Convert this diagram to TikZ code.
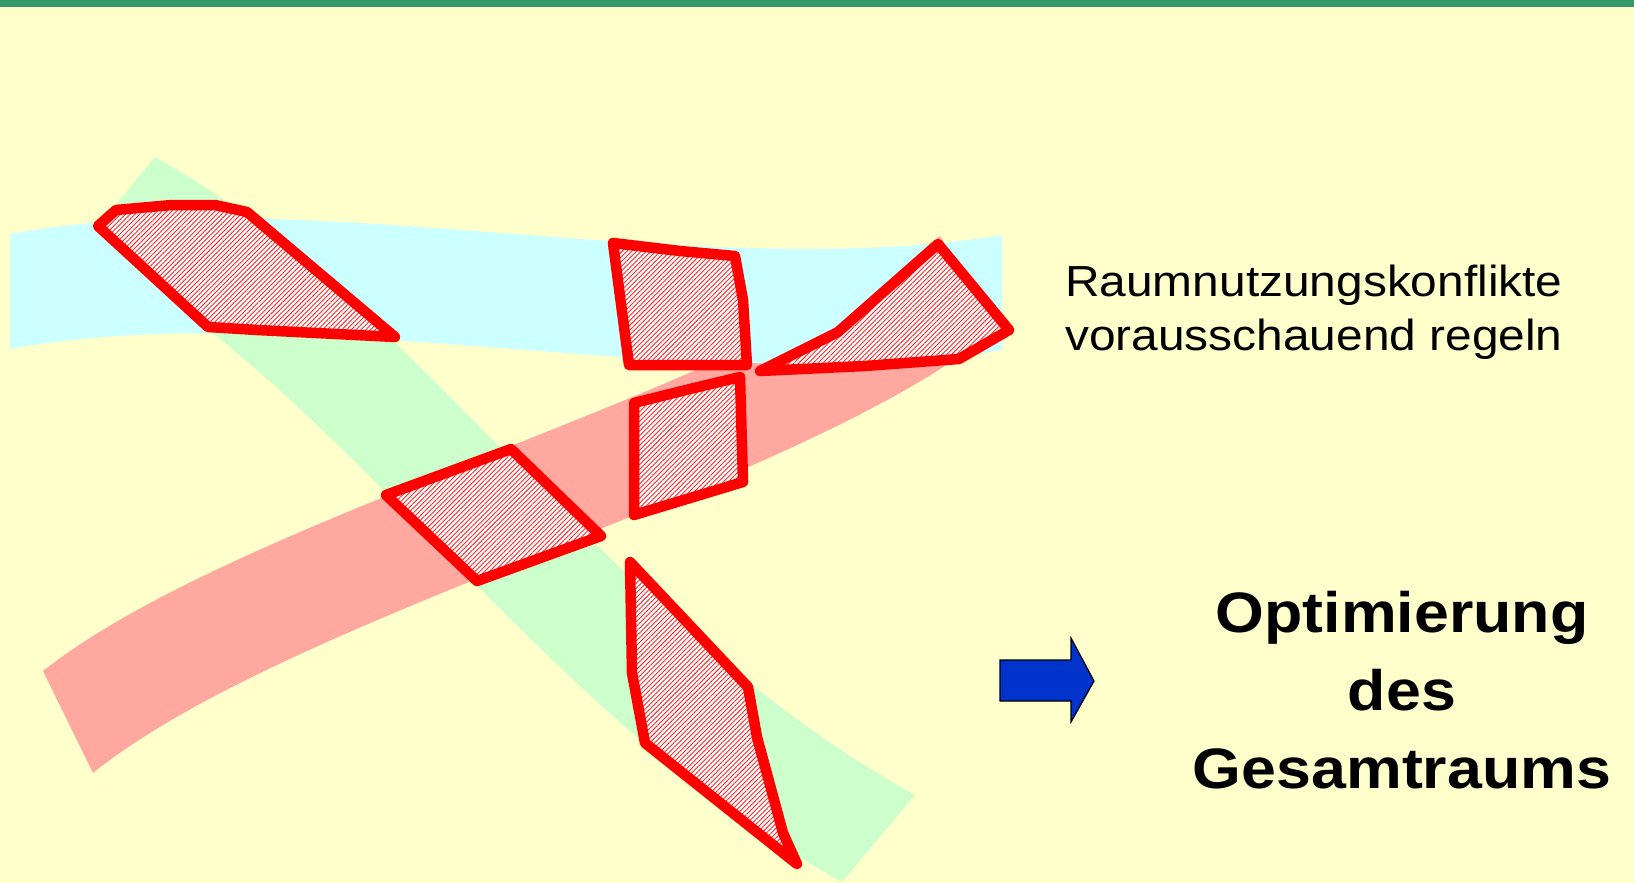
\documentclass[tikz,border=0pt]{standalone}
\usepackage{fontspec}
\usepackage{graphicx}
\setmainfont{Liberation Sans}
\usetikzlibrary{patterns.meta}

\definecolor{paper}{RGB}{255,255,204}
\definecolor{topbar}{RGB}{51,153,102}
\definecolor{waterband}{RGB}{204,255,255}
\definecolor{greenband}{RGB}{204,255,204}
\definecolor{redband}{RGB}{255,168,160}
\definecolor{arrowblue}{RGB}{0,51,204}

\tikzset{
  zone/.style={draw=red, line width=10.5pt, line join=round,
    preaction={fill=white},
    pattern={Lines[angle=45,distance=3.4pt,line width=0.9pt]},
    pattern color=red!85},
  plainlabel/.style={inner sep=0pt, font=\fontsize{43.5}{52}\selectfont},
  boldlabel/.style={inner sep=0pt, font=\fontsize{57}{68}\selectfont\bfseries},
}

\begin{document}
\begin{tikzpicture}[x=1pt,y=-1pt]
\useasboundingbox (0,0) rectangle (1634,883);
\fill[paper] (0,0) rectangle (1634,883);
\fill[topbar] (0,0) rectangle (1634,7);

% corridors
\fill[greenband] (155,157) .. controls (430,310) and (600,620) .. (915,795)
  -- (842,882) .. controls (528,708) and (358,398) .. (83,245) -- cycle;
\fill[redband] (43,671) .. controls (240,515) and (750,390) .. (940,236)
  -- (995,330) .. controls (802,488) and (292,613) .. (93,773) -- cycle;
\fill[waterband] (10,234) .. controls (300,180) and (700,285) .. (1002,235)
  -- (1002,350) .. controls (700,400) and (300,295) .. (10,349) -- cycle;

% conflict zones
\path[zone] (98,226) -- (116,210) -- (172,205) -- (215,205) -- (247,212)
  -- (395,337) -- (257,330) -- (208,327) -- cycle;
\path[zone] (613,243) -- (680,251) -- (735,256) -- (743,300) -- (747,365)
  -- (629,365) -- cycle;
\path[zone] (760,371) -- (838,332) -- (938,244) -- (1009,330) -- (959,359)
  -- (865,366) -- cycle;
\path[zone] (634,403) -- (690,389) -- (740,377) -- (743,482) -- (634,515) -- cycle;
\path[zone] (386,495) -- (511,449) -- (601,536) -- (477,581) -- cycle;
\path[zone] (630,562) -- (748,687) -- (757,737) -- (783,833) -- (797,864)
  -- (645,743) -- (632,673) -- cycle;

% arrow
\draw[fill=arrowblue, draw=black, line width=1.2pt, line join=miter]
  (1000,660) -- (1071,660) -- (1071,638) -- (1094,681) -- (1071,722)
  -- (1071,701) -- (1000,701) -- cycle;

% labels
\node[plainlabel, anchor=base west] (conflictA) at (1065,296)
  {\scalebox{1.1}[1]{Raumnutzungskonflikte}};
\node[plainlabel, anchor=base west] (conflictB) at (1065,350)
  {\scalebox{1.1}[1]{vorausschauend regeln}};
\node[boldlabel, anchor=base] (goalA) at (1402,632) {\scalebox{1.1}[1]{Optimierung}};
\node[boldlabel, anchor=base] (goalB) at (1402,710) {\scalebox{1.1}[1]{des}};
\node[boldlabel, anchor=base] (goalC) at (1402,788) {\scalebox{1.1}[1]{Gesamtraums}};
\end{tikzpicture}
\end{document}
